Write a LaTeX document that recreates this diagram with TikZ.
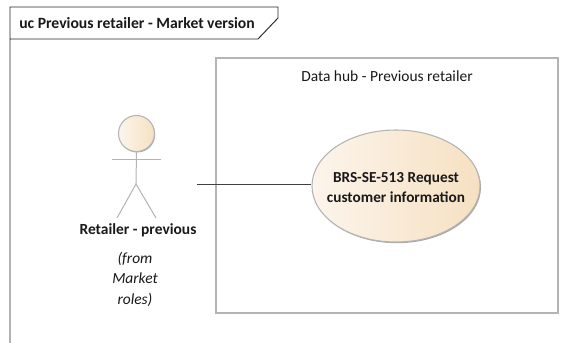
\documentclass[tikz,border=0pt]{standalone}
\usepackage{fontspec}
\setmainfont{Carlito}
\usetikzlibrary{shapes.geometric}
\definecolor{edgegray}{HTML}{B4B4B4}
\definecolor{shadegray}{HTML}{A8A8A8}
\definecolor{fillL}{HTML}{FCF5EC}
\definecolor{fillR}{HTML}{F6E0C2}
\tikzset{
  x=0.75pt,y=-0.75pt,
  framel/.style={draw=black!85,line width=0.7pt},
  boundary/.style={draw=edgegray,line width=0.9pt},
  stick/.style={draw=edgegray,line width=0.75pt},
  usecase/.style={ellipse,draw=edgegray,line width=0.8pt,left color=fillL,right color=fillR,minimum width=126pt,minimum height=84pt,inner sep=0pt},
  usecaseshadow/.style={ellipse,fill=shadegray,minimum width=126pt,minimum height=84pt,inner sep=0pt},
  head/.style={circle,draw=edgegray,line width=0.8pt,left color=fillL,right color=fillR,minimum size=27pt,inner sep=0pt},
  headshadow/.style={circle,fill=shadegray,minimum size=27pt,inner sep=0pt},
  label/.style={inner sep=0pt,align=center,text=black!90},
  conn/.style={draw=black!75,line width=0.75pt}
}
\begin{document}
\begin{tikzpicture}
\useasboundingbox (0,0) rectangle (583,343);
\fill[white] (0,0) rectangle (583,343);
% frame
\coordinate (fa) at (10,343);
\coordinate (fb) at (10,7);
\coordinate (fc) at (278,7);
\coordinate (fd) at (278,18);
\coordinate (fe) at (258,39);
\coordinate (ff) at (10,39);
\draw[framel] (fa) -- (fb) -- (fc) -- (fd) -- (fe) -- (ff);
\node[label,anchor=west,font=\fontsize{11.75}{13}\selectfont\bfseries] (title) at (19,23.5) {uc Previous retailer - Market version};
% boundary
\node[boundary,draw,minimum width=256.5pt,minimum height=191.25pt,inner sep=0pt] (hub) at (387,185.5) {};
\node[label,font=\fontsize{11.6}{13}\selectfont] (hubt) at (387,76) {Data hub - Previous retailer};
% actor
\node[headshadow] at (137.2,134.5) {};
\node[head] (hd) at (136.5,133.5) {};
\coordinate (hip) at (136,184);
\coordinate (armL) at (112,159);
\coordinate (armR) at (161,159);
\coordinate (footL) at (117,218);
\coordinate (footR) at (156,218);
\draw[stick] (hd.south) -- (hip);
\draw[stick] (armL) -- (armR);
\draw[stick] (footL) -- (hip) -- (footR);
\node[label,font=\fontsize{11.6}{13}\selectfont\bfseries] (actor) at (138,230) {Retailer - previous};
\node[label,font=\fontsize{11.6}{15.4}\selectfont\itshape] (from) at (135,279) {(from\\Market\\roles)};
% use case
\node[usecaseshadow] at (397,187.2) {};
\node[usecase] (uc) at (396,186) {};
\node[label,font=\fontsize{11.45}{15.6}\selectfont\bfseries] (uct) at (396,187.5) {BRS-SE-513 Request\\customer information};
% connector
\coordinate (cstart) at (197,184);
\draw[conn] (cstart) -- (uc.west |- cstart);
\end{tikzpicture}
\end{document}
